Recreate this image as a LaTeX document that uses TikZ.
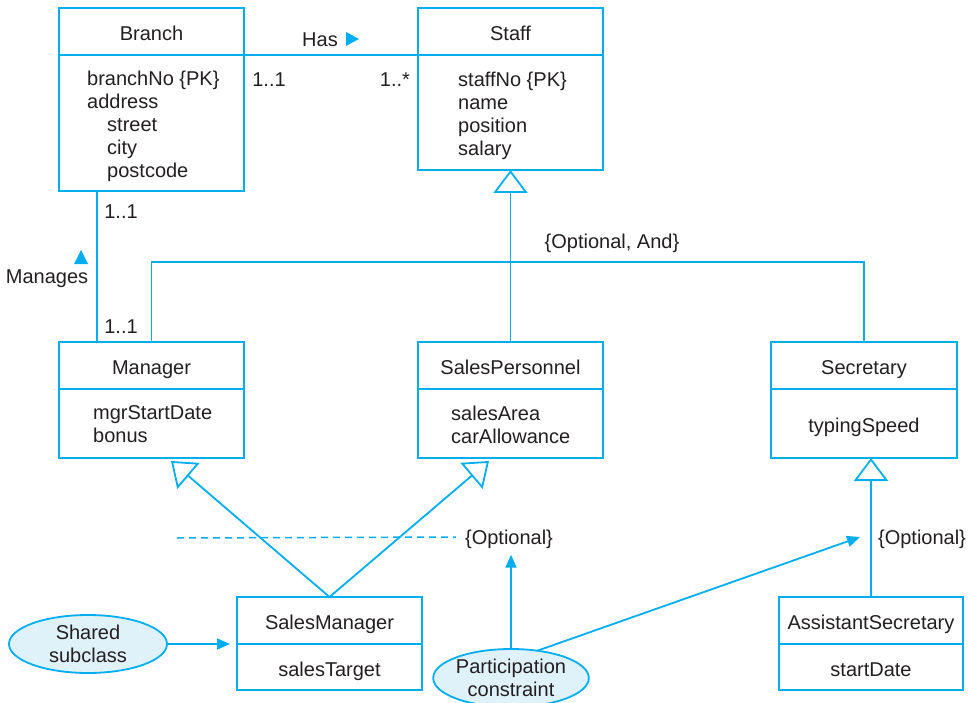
\documentclass[tikz,border=0pt]{standalone}
\usepackage{fontspec}
\setmainfont{Liberation Sans}
\usetikzlibrary{arrows.meta,shapes.geometric,calc}
\definecolor{ucyan}{HTML}{00AEEF}
\definecolor{ufill}{HTML}{DFF2FA}
\definecolor{utext}{HTML}{231F20}
\begin{document}
\begin{tikzpicture}[x=1pt,y=-1pt, font=\fontsize{20}{23}\selectfont, text=utext,
  box/.style={draw=ucyan, line width=1.8pt, rectangle, inner sep=0pt, outer sep=0pt, minimum width=185pt, anchor=north west, text height=20pt, text depth=2pt},
  ttl/.style={box, minimum height=47pt},
  lbl/.style={inner sep=0pt, text height=15pt, text depth=0pt},
  attr/.style={inner sep=0pt, anchor=west, align=left},
  conn/.style={draw=ucyan, line width=1.8pt},
  gen/.style={conn, -{Triangle[open, length=23pt, width=34pt]}},
  arr/.style={conn, -{Triangle[length=13pt, width=11pt]}},
  note/.style={ellipse, draw=ucyan, line width=1.8pt, fill=ufill, inner sep=0pt, outer sep=0pt, align=center, minimum width=158pt, minimum height=58pt}]
\useasboundingbox (0,0) rectangle (968,703);

% Branch
\node[ttl] (brT) at (59,8) {Branch};
\node[box, minimum height=136pt] (brB) at (brT.south west) {};
\node[attr] at ([xshift=28pt,yshift=-3pt]brB.west) {branchNo \{PK\}\\address\\\hspace*{20pt}street\\\hspace*{20pt}city\\\hspace*{20pt}postcode};

% Staff
\node[ttl] (stT) at (418,8) {Staff};
\node[box, minimum height=115pt] (stB) at (stT.south west) {};
\node[attr] at ([xshift=40pt,yshift=-3pt]stB.west) {staffNo \{PK\}\\name\\position\\salary};

% Manager
\node[ttl] (mgT) at (59,342) {Manager};
\node[box, minimum height=69pt] (mgB) at (mgT.south west) {};
\node[attr] at ([xshift=34pt,yshift=-1pt]mgB.west) {mgrStartDate\\bonus};

% SalesPersonnel
\node[ttl] (spT) at (418,342) {SalesPersonnel};
\node[box, minimum height=69pt] (spB) at (spT.south west) {};
\node[attr] at ([xshift=33pt,yshift=-1pt]spB.west) {salesArea\\carAllowance};

% Secretary
\node[ttl, minimum width=186pt] (seT) at (771,342) {Secretary};
\node[box, minimum width=186pt, minimum height=69pt] (seB) at (seT.south west) {typingSpeed};

% SalesManager
\node[ttl] (smT) at (237,597) {SalesManager};
\node[box, minimum height=46pt] (smB) at (smT.south west) {salesTarget};

% AssistantSecretary
\node[ttl, minimum width=184pt] (asT) at (779,597) {AssistantSecretary};
\node[box, minimum width=184pt, minimum height=46pt] (asB) at (asT.south west) {startDate};

% notes
\node[note] (sh) at (88,644) {Shared\\subclass};
\node[note, minimum width=154pt] (pc) at (511,678) {Participation\\constraint};

% labels
\node[lbl] (has) at (320,39) {Has};
\fill[ucyan] (346,32) -- (359,39) -- (346,46) -- cycle;
\node[lbl] (m1) at (269,79) {1..1};
\node[lbl] (m2) at (395,79) {1..*};
\node[lbl] (m3) at (121,211) {1..1};
\node[lbl] (m4) at (121,326) {1..1};
\node[lbl] (mg) at (47,276) {Manages};
\fill[ucyan] (74,264) -- (88,264) -- (81,250) -- cycle;
\node[lbl] (oa) at (612,241) {\{Optional, And\}};
\node[lbl] (opt1) at (509,537) {\{Optional\}};
\node[lbl] (opt2) at (922,537) {\{Optional\}};

% connectors
\draw[conn] (brT.south east) -- (stT.south west);
\draw[conn] ([xshift=38pt]brB.south west) -- ([xshift=38pt]mgT.north west);
\coordinate (bar) at (511,262);
\draw[conn] (mgT.north) |- (bar) -| (seT.north);
\draw[gen] (spT.north) -- (stB.south);
\coordinate (mgTip) at (171,461);
\coordinate (spTip) at (489,461);
\draw[gen] (smT.north) -- (mgTip);
\draw[gen] (smT.north) -- (spTip);
\draw[gen] (asT.north) -- (asT.north |- seB.south);
\coordinate (dashL) at (177,538);
\draw[conn, line width=1.5pt, dash pattern=on 7pt off 5pt] (dashL) -- ([xshift=-9pt]opt1.west);
\draw[arr] (pc.north) -- ([yshift=-10pt]opt1.south -| pc.north);
\coordinate (opt2tip) at (860,537);
\draw[arr] (pc.46) -- (opt2tip);
\draw[arr] (sh.east) -- ([xshift=-7pt]smT.south west);
\end{tikzpicture}
\end{document}
